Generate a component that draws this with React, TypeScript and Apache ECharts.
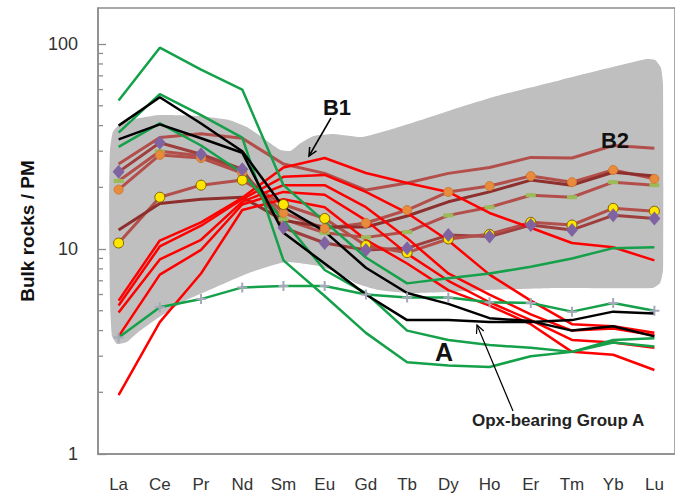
import React, { useEffect, useRef } from "react";
import * as echarts from "echarts";

const ELEMENTS = ["La", "Ce", "Pr", "Nd", "Sm", "Eu", "Gd", "Tb", "Dy", "Ho", "Er", "Tm", "Yb", "Lu"];

// Green lines
const GREEN_1 = [53, 96, 75, 60, 20.5, 13.6, 9.1, 6.8, 7.2, 7.6, 8.2, 9.0, 10.1, 10.2];
const GREEN_2 = [37, 57, 45, 35, 8.8, 5.9, 3.9, 2.8, 2.7, 2.66, 3.0, 3.15, 3.6, 3.67];
const GREEN_3 = [31.5, 41, 32, 23.5, 13.8, 7.9, 6.1, 4.0, 3.6, 3.4, 3.3, 3.15, 3.5, 3.35];
const GREEN_PLUS = [3.7, 5.2, 5.7, 6.5, 6.6, 6.6, 6.0, 5.8, 5.8, 5.5, 5.45, 4.95, 5.45, 5.0];

// Black lines (Opx-bearing Group A)
const BLACK_1 = [40, 55, 41, 30, 16, 12.2, 8.1, 6.1, 5.4, 4.6, 4.45, 4.0, 4.2, 3.75];
const BLACK_2 = [34.3, 40.6, 34.7, 29.5, 12, 8.5, 6.0, 4.5, 4.5, 4.4, 4.4, 4.5, 4.95, 4.85];

// Red lines (B1)
const RED_1 = [5.6, 11.0, 13.5, 17.8, 25, 27.8, 23.5, 21, 19, 15, 12.7, 10.7, 10.2, 8.8];
const RED_2 = [5.3, 10.3, 13, 17.5, 22.5, 23, 19, 15, 11, 7.5, 5.6, 4.3, 4.2, 3.9];
const RED_3 = [4.9, 8.9, 11.1, 17, 20.5, 20.5, 16, 11.3, 7.6, 6.0, 4.8, 4.0, 4.1, 3.8];
const RED_4 = [3.75, 7.5, 9.9, 16.5, 19, 18.4, 13.8, 9.5, 7.0, 5.5, 4.5, 3.6, 3.5, 3.3];
const RED_5 = [1.94, 4.4, 7.6, 15.5, 17.5, 16, 11.1, 8.5, 6.3, 5.3, 4.3, 3.15, 3.05, 2.57];

// Brown lines (B2)
const BROWN_TOP = [26, 35, 36.5, 34.7, 26, 23.4, 19.4, 21, 23.4, 25, 28, 27.8, 32, 31];
const BROWN_ORANGE = [19.5, 28.8, 27.8, 23.5, 15, 12.6, 13.4, 15.5, 19, 20.3, 22.7, 21.2, 24.3, 22];
const BROWN_LIME = [21.5, 30, 28.5, 24, 14, 12, 11.4, 12.1, 14.6, 16, 18.3, 17.9, 21.2, 20.5];
const BROWN_PURPLE = [23.8, 33, 29, 24.5, 12.7, 10.7, 9.9, 10.1, 11.7, 11.5, 13.1, 12.4, 14.6, 14.1];
const BROWN_YELLOW = [10.7, 17.9, 20.5, 21.7, 16.5, 14.1, 10.4, 9.6, 11.2, 11.8, 13.5, 13.1, 15.8, 15.3];
const BROWN_DARK = [12.4, 16.7, 17.5, 17.9, 13.8, 12.8, 12.8, 14.5, 17, 19, 21.7, 20.5, 23.7, 22.7];

// Grey B-field envelope: [element position, value]
const ENVELOPE: [number, number][] = [
  [-0.04, 3.44], [-0.16, 3.76], [-0.21, 5.64], [-0.23, 17.3], [-0.21, 30.4], [-0.14, 37.2],
  [0.03, 40.7], [0.39, 43.1], [0.99, 45.1], [1.96, 44.6], [2.68, 42.6], [3.16, 38.9],
  [3.64, 33.3], [3.93, 30.4], [4.17, 30.1], [4.42, 32.9], [4.73, 35.6], [5.21, 36.4],
  [5.89, 35.2], [6.71, 38.9], [7.26, 42.1], [8.3, 49.3], [9.26, 56.4], [10.71, 66.7],
  [12.8, 84.5], [13.02, 83.6], [13.16, 76.4], [13.21, 63.1], [13.21, 7.9], [13.14, 6.83],
  [12.95, 6.45], [10.63, 6.45], [8.95, 6.31], [7.98, 6.17], [7.02, 6.1], [6.3, 6.31],
  [5.74, 6.83], [5.33, 7.64], [4.85, 8.26], [4.05, 8.64], [3.16, 7.64], [2.37, 6.53],
  [1.65, 5.64], [0.99, 4.66], [0.51, 3.98], [0.2, 3.52],
];

const MINOR_TICKS = [2, 3, 4, 5, 6, 7, 8, 9, 20, 30, 40, 50, 60, 70, 80, 90];

const FONT = "'Liberation Sans', Arial, sans-serif";
const AXIS_GREY = "#8c8c8c";

function arrow(x1: number, y1: number, x2: number, y2: number, w: number) {
  const a = Math.atan2(y2 - y1, x2 - x1);
  const L = 9;
  const s = 0.45;
  return [
    { type: "line", shape: { x1, y1, x2, y2 }, style: { stroke: "#000", lineWidth: w } },
    {
      type: "polyline",
      shape: {
        points: [
          [x2 - L * Math.cos(a - s), y2 - L * Math.sin(a - s)],
          [x2, y2],
          [x2 - L * Math.cos(a + s), y2 - L * Math.sin(a + s)],
        ],
      },
      style: { stroke: "#000", lineWidth: w, fill: null },
    },
  ];
}

function lineSeries(data: number[], color: string, width: number, z: number) {
  return {
    type: "line",
    data,
    symbol: "none",
    silent: true,
    z,
    lineStyle: { color, width },
  };
}

function markerSeries(data: number[], symbol: string, size: any, color: string, border?: string) {
  return {
    type: "line",
    data,
    symbol,
    symbolSize: size,
    showSymbol: true,
    silent: true,
    z: 8,
    lineStyle: { opacity: 0, width: 0 },
    itemStyle: { color, borderColor: border || color, borderWidth: border ? 1 : 0, opacity: 1 },
  };
}

export default function App() {
  const ref = useRef<HTMLDivElement>(null);
  useEffect(() => {
    if (!ref.current) return;
    const chart = echarts.init(ref.current, null, { renderer: "svg" });
    const green = "#15a04a";
    const red = "#ff0000";
    const brown = "#b34f4b";
    const option: any = {
      animation: false,
      grid: {
        left: 98,
        top: 8,
        width: 581,
        bottom: 43,
        show: true,
        borderColor: AXIS_GREY,
        borderWidth: 1.5,
        backgroundColor: "transparent",
      },
      xAxis: [
        {
          type: "category",
          data: ELEMENTS,
          boundaryGap: true,
          axisLine: { onZero: false, lineStyle: { color: AXIS_GREY, width: 1.5 } },
          axisTick: { inside: true, length: 6, lineStyle: { color: AXIS_GREY, width: 1.3 } },
          axisLabel: { color: "#333", fontSize: 17, fontFamily: FONT, margin: 22 },
          splitLine: { show: false },
        },
        { type: "value", min: -0.5, max: 13.5, show: false },
      ],
      yAxis: {
        type: "log",
        logBase: 10,
        min: 1,
        max: 150,
        axisLine: { show: true, onZero: false, lineStyle: { color: AXIS_GREY, width: 1.5 } },
        axisTick: { show: true, inside: true, length: 8, lineStyle: { color: AXIS_GREY, width: 1.3 } },
        axisLabel: { color: "#333", fontSize: 18, fontFamily: FONT, margin: 20, showMaxLabel: false },
        splitLine: { show: false },
      },
      graphic: [
        {
          type: "text",
          x: 27,
          y: 231,
          rotation: Math.PI / 2,
          style: {
            text: "Bulk rocks / PM",
            font: `bold 19px ${FONT}`,
            fill: "#111",
            align: "center",
            verticalAlign: "middle",
          },
        },
        {
          type: "text",
          x: 337,
          y: 107,
          style: { text: "B1", font: `bold 22px ${FONT}`, fill: "#111", align: "center", verticalAlign: "middle" },
          z: 20,
        },
        {
          type: "text",
          x: 615,
          y: 140,
          style: { text: "B2", font: `bold 22px ${FONT}`, fill: "#111", align: "center", verticalAlign: "middle" },
          z: 20,
        },
        {
          type: "text",
          x: 444,
          y: 352,
          style: { text: "A", font: `bold 25px ${FONT}`, fill: "#111", align: "center", verticalAlign: "middle" },
          z: 20,
        },
        {
          type: "text",
          x: 472,
          y: 420,
          style: {
            text: "Opx-bearing Group A",
            font: `bold 17px ${FONT}`,
            fill: "#222",
            align: "left",
            verticalAlign: "middle",
          },
          z: 20,
        },
        ...arrow(331, 118, 309, 156, 1.5).map((e) => ({ ...e, z: 20 })),
        ...arrow(513, 411, 477, 325, 1.2).map((e) => ({ ...e, z: 20 })),
      ],
      series: [
        {
          type: "custom",
          xAxisIndex: 1,
          yAxisIndex: 0,
          silent: true,
          z: 0,
          data: [[0, 10]],
          renderItem: (params: any, api: any) => ({
            type: "polygon",
            shape: { points: ENVELOPE.map((p) => api.coord(p)), smooth: 0.15 },
            style: { fill: "#bfbfbf" },
          }),
        },
        {
          type: "custom",
          xAxisIndex: 1,
          yAxisIndex: 0,
          silent: true,
          z: 9,
          data: MINOR_TICKS.map((v) => [0, v]),
          renderItem: (params: any, api: any) => {
            const y = api.coord([0, api.value(1)])[1];
            const x0 = params.coordSys.x;
            return {
              type: "line",
              shape: { x1: x0, y1: y, x2: x0 + 5, y2: y },
              style: { stroke: AXIS_GREY, lineWidth: 1.3 },
            };
          },
        },
        lineSeries(BROWN_TOP, brown, 3, 2),
        lineSeries(BROWN_ORANGE, brown, 3, 2),
        lineSeries(BROWN_LIME, brown, 3, 2),
        lineSeries(BROWN_PURPLE, "#9e3f3d", 3, 2),
        lineSeries(BROWN_YELLOW, brown, 3, 2),
        lineSeries(BROWN_DARK, "#8c2f2d", 3, 2),
        lineSeries(RED_1, red, 2.5, 3),
        lineSeries(RED_2, red, 2.5, 3),
        lineSeries(RED_3, red, 2.5, 3),
        lineSeries(RED_4, red, 2.5, 3),
        lineSeries(RED_5, red, 2.5, 3),
        lineSeries(GREEN_PLUS, green, 2.5, 4),
        lineSeries(GREEN_1, green, 2.5, 4),
        lineSeries(GREEN_2, green, 2.5, 4),
        lineSeries(GREEN_3, green, 2.5, 4),
        lineSeries(BLACK_1, "#000", 2.5, 5),
        lineSeries(BLACK_2, "#000", 2.5, 5),
        markerSeries(GREEN_PLUS, "path://M4,0H6V4H10V6H6V10H4V6H0V4H4Z", 10, "#a3a9b8"),
        markerSeries(BROWN_LIME, "rect", [10, 4], "#9bbb59"),
        markerSeries(BROWN_ORANGE, "circle", 9, "#e98b3d", "#d07a30"),
        markerSeries(BROWN_YELLOW, "circle", 10, "#ffe600", "#7f6000"),
        markerSeries(BROWN_PURPLE, "diamond", [12, 14], "#8064a2"),
      ],
    };
    chart.setOption(option);
    return () => chart.dispose();
  }, []);
  return (
    <div
      ref={ref}
      style={{ position: "fixed", left: 0, top: 0, width: 675, height: 497, background: "#fff" }}
    />
  );
}
